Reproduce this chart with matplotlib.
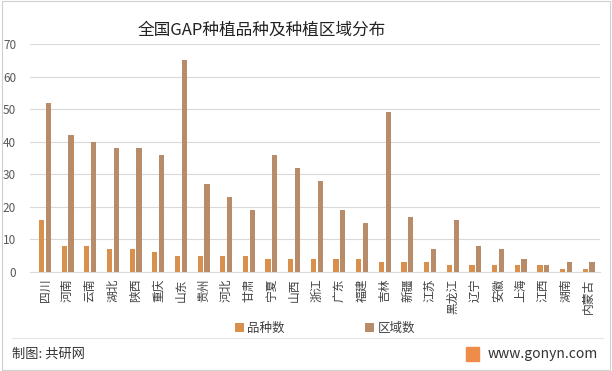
import matplotlib
matplotlib.use("Agg")
import matplotlib.pyplot as plt
import numpy as np
from matplotlib.patches import Rectangle

plt.rcParams['font.family'] = ['Noto Sans CJK SC', 'DejaVu Sans']

provinces = ["四川", "河南", "云南", "湖北", "陕西", "重庆", "山东", "贵州", "河北", "甘肃",
             "宁夏", "山西", "浙江", "广东", "福建", "吉林", "新疆", "江苏", "黑龙江", "辽宁",
             "安徽", "上海", "江西", "湖南", "内蒙古"]
varieties = [16, 8, 8, 7, 7, 6, 5, 5, 5, 5, 4, 4, 4, 4, 4, 3, 3, 3, 2, 2, 2, 2, 2, 1, 1]
regions = [52, 42, 40, 38, 38, 36, 65, 27, 23, 19, 36, 32, 28, 19, 15, 49, 17, 7, 16, 8, 7, 4, 2, 3, 3]
yticks = [0, 10, 20, 30, 40, 50, 60, 70]

c1 = "#D8904C"
c2 = "#B98C69"

fig = plt.figure(figsize=(6.12, 3.71), dpi=100)
ax = fig.add_axes([0.049, 0.267, 0.931, 0.614])

x = np.arange(len(provinces))
w = 0.23
ax.bar(x - 0.15, varieties, width=w, color=c1, label="品种数", zorder=3)
ax.bar(x + 0.15, regions, width=w, color=c2, label="区域数", zorder=3)

ax.set_ylim(0, 70)
ax.set_xlim(-0.66, len(provinces) - 0.51)
ax.set_yticks(yticks)
ax.set_yticklabels([str(v) for v in yticks], fontsize=8.5, color="#595959")
ax.yaxis.grid(True, color="#D9D9D9", linewidth=0.8, zorder=0)
ax.set_axisbelow(True)
for s in ["left", "right", "top"]:
    ax.spines[s].set_visible(False)
ax.spines["bottom"].set_color("#D9D9D9")
ax.tick_params(axis="y", length=0, pad=10)
ax.tick_params(axis="x", length=0, pad=5)
ax.set_xticks(x)
ax.set_xticklabels(provinces, fontsize=8.5, color="#404040", rotation=90,
                   ha="center", va="top")

fig.text(0.427, 0.918, "全国GAP种植品种及种植区域分布", ha="center", va="center",
         fontsize=12, color="#222222")

leg = fig.legend(loc="center", bbox_to_anchor=(0.531, 0.115), ncol=2, frameon=False,
                 fontsize=9, handlelength=0.7, handleheight=0.7, columnspacing=6.4,
                 handletextpad=0.3)
for t in leg.get_texts():
    t.set_color("#404040")

# separator and footer
fig.add_artist(plt.Line2D([0.02, 0.985], [0.088, 0.088], color="#E6E6E6", linewidth=0.8))
fig.text(0.02, 0.045, "制图: 共研网", ha="left", va="center", fontsize=9.5, color="#333333")
fig.text(0.977, 0.045, "www.gonyn.com", ha="right", va="center", fontsize=10, color="#333333")
fig.add_artist(Rectangle((0.762, 0.027), 0.021, 0.038, transform=fig.transFigure,
                         color="#F08C4A"))
fig.add_artist(Rectangle((0.003, 0.003), 0.994, 0.994, transform=fig.transFigure,
                         fill=False, edgecolor="#D0D0D0", linewidth=0.8))

fig.savefig("out.png", dpi=100)
